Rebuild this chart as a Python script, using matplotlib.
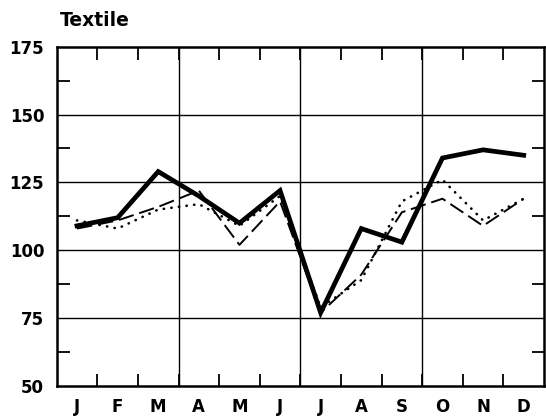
import matplotlib
matplotlib.use("Agg")
import matplotlib.pyplot as plt
import numpy as np

# monthly index values
months = ['J', 'F', 'M', 'A', 'M', 'J', 'J', 'A', 'S', 'O', 'N', 'D']
solid = [109, 112, 129, 120, 110, 122, 77, 108, 103, 134, 137, 135]
dashed = [108, 111, 116, 122, 102, 118, 77, 91, 114, 119, 109, 119]
dotted = [111, 108, 115, 117, 109, 120, 79, 89, 118, 126, 111, 119]
yticks = [50, 75, 100, 125, 150, 175]

W, H = 546, 417
fig = plt.figure(figsize=(W / 100, H / 100), dpi=100)
left, right, top, bottom = 56.7, 544, 46.7, 386
ax = fig.add_axes([left / W, 1 - bottom / H, (right - left) / W, (bottom - top) / H])

x = np.arange(len(months))

# grid: quarter separators and 25-step horizontals
for xv in [2.5, 5.5, 8.5]:
    ax.axvline(xv, color='black', lw=1.0, zorder=1)
for yv in yticks[1:-1]:
    ax.axhline(yv, color='black', lw=1.0, zorder=1)

ax.plot(x, dashed, color='black', lw=1.4, linestyle=(0, (8, 3)), zorder=3)
ax.plot(x, dotted, color='black', lw=1.9, linestyle=(0, (0.1, 2.8)),
        dash_capstyle='round', zorder=3)
ax.plot(x, solid, color='black', lw=3.4, solid_joinstyle='miter', zorder=4)

ax.set_xlim(-0.5, 11.5)
ax.set_ylim(50, 175)

ax.set_xticks(x)
ax.set_xticklabels(months)
ax.set_xticks(np.arange(0.5, 11, 1), minor=True)
ax.set_yticks(yticks)
ax.set_yticks(np.arange(62.5, 175, 25), minor=True)

ax.tick_params(axis='both', which='major', length=0, labelsize=12)
ax.tick_params(axis='x', which='major', pad=9)
ax.tick_params(axis='y', which='major', pad=9)
ax.tick_params(axis='x', which='minor', direction='in', length=9, width=1.3,
               top=True, bottom=True)
ax.tick_params(axis='y', which='minor', direction='in', length=9, width=1.3,
               left=True, right=True)
for lab in ax.get_xticklabels() + ax.get_yticklabels():
    lab.set_fontweight('bold')

for sp in ax.spines.values():
    sp.set_linewidth(1.8)

fig.text(60 / W, 1 - 20 / H, 'Textile', fontsize=13.5,
         fontweight='semibold', ha='left', va='center')

fig.savefig('out.png', dpi=100)
